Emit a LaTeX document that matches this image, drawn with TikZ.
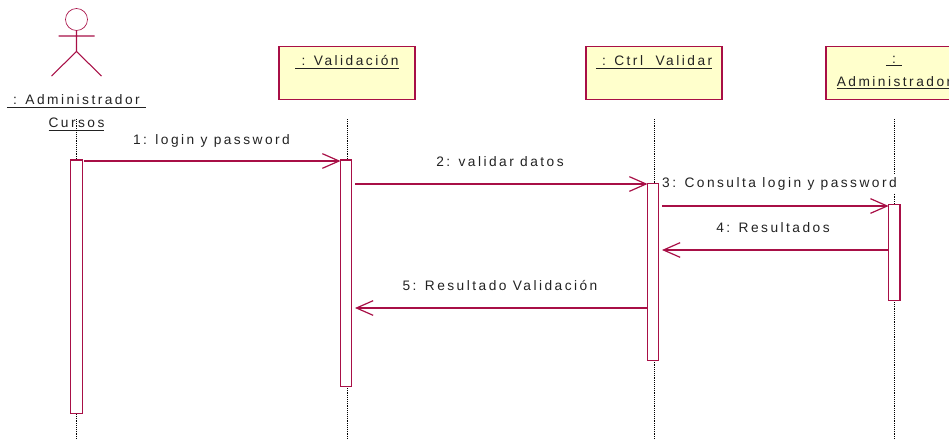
\documentclass[tikz,border=0pt]{standalone}
\usepackage{fontspec}
\usepackage{xcolor}
\setmainfont{Liberation Sans}[LetterSpace=18]
\definecolor{umlred}{HTML}{A80F46}
\definecolor{umlyellow}{HTML}{FFFFCC}
\definecolor{umltext}{HTML}{222222}
\usetikzlibrary{positioning}
\usetikzlibrary{arrows.meta}

\begin{document}
\begin{tikzpicture}[x=0.75pt,y=-0.75pt,every node/.style={outer sep=0pt},
 objbox/.style={draw=umlred,fill=umlyellow,line width=0.9pt,minimum width=102pt,
 minimum height=39.5pt,anchor=north},
 bar/.style={draw=umlred,fill=white,line width=0.9pt,minimum width=8.5pt,anchor=north},
 txt/.style={font=\fontsize{10.3}{17.25}\selectfont,text=umltext,inner sep=0pt},
 msgtxt/.style={txt,fill=white,inner ysep=2pt},
 msg/.style={draw=umlred,line width=0.9pt,-{Straight Barb[length=12.5pt,width=11pt]}},
 lifeline/.style={thin,densely dotted,line width=0.55pt},
 actorpic/.pic={\draw[umlred,line width=0.5pt] (0,0) circle[radius=11];
 \draw[umlred,line width=0.8pt] (0,11) -- (0,32) (-18,16.5) -- (18,16.5)
 (-25,56.5) -- (0,32) -- (25,56.5);}]

  \clip (0,0) rectangle (949,439);

  \pic (actor) at (76.5,19.5) {actorpic};
  \node[txt,align=center,anchor=north] (admname) at (76.5,95)
   {\underline{\ : Administrador\ }\\\underline{Cursos}};

  \node[objbox] (val) at (347,46.5) {};
  \node[objbox] (ctrl) at (654,46.5) {};
  \node[objbox] (dst) at (894,46.5) {};
  \node[txt,below=7pt of val.north] (valname) {\underline{\ : Validación}};
  \node[txt,below=7pt of ctrl.north] (ctrlname) {\underline{\ : Ctrl\ \ Validar}};
  \node[txt,align=center,below=7pt of dst.north] (dstname)
   {\underline{\ :\ }\\\underline{Administrador}};

  \foreach \X/\Y in {76.5/adm,347.3/val,654.3/ctrl,894.7/dst}
  {\coordinate (top\Y) at (\X,119);
   \coordinate (bot\Y) at (\X,439);
   \draw[lifeline] (top\Y) -- (bot\Y);
  }

  \node[bar,minimum height=190pt] (a1) at (76.5,160) {};
  \node[bar,minimum height=170pt] (v1) at (346.2,160) {};
  \node[bar,minimum height=132.5pt] (c1) at (653.2,183.5) {};
  \node[bar,minimum height=72pt] (d1) at (894.3,204.8) {};

  \coordinate (m1) at (84,161);
  \coordinate (m2) at (355,184);
  \coordinate (m3) at (662,206);
  \coordinate (m4) at (662,250);
  \coordinate (m5) at (355,308);

  \draw[msg] (m1) -- (v1.west|-m1);
  \draw[msg] (m2) -- (c1.west|-m2);
  \draw[msg] (m3) -- (d1.west|-m3);
  \draw[msg] (d1.west|-m4) -- (m4);
  \draw[msg] (c1.west|-m5) -- (m5);

  \node[txt] (t1) at (211.5,140.5) {1: login y password};
  \node[txt] (t2) at (500,162) {2: validar datos};
  \node[msgtxt] (t3) at (779.5,183.5) {3: Consulta login y password};
  \node[txt] (t4) at (773,228) {4: Resultados};
  \node[txt] (t5) at (500,285.5) {5: Resultado Validación};

\end{tikzpicture}
\end{document}
